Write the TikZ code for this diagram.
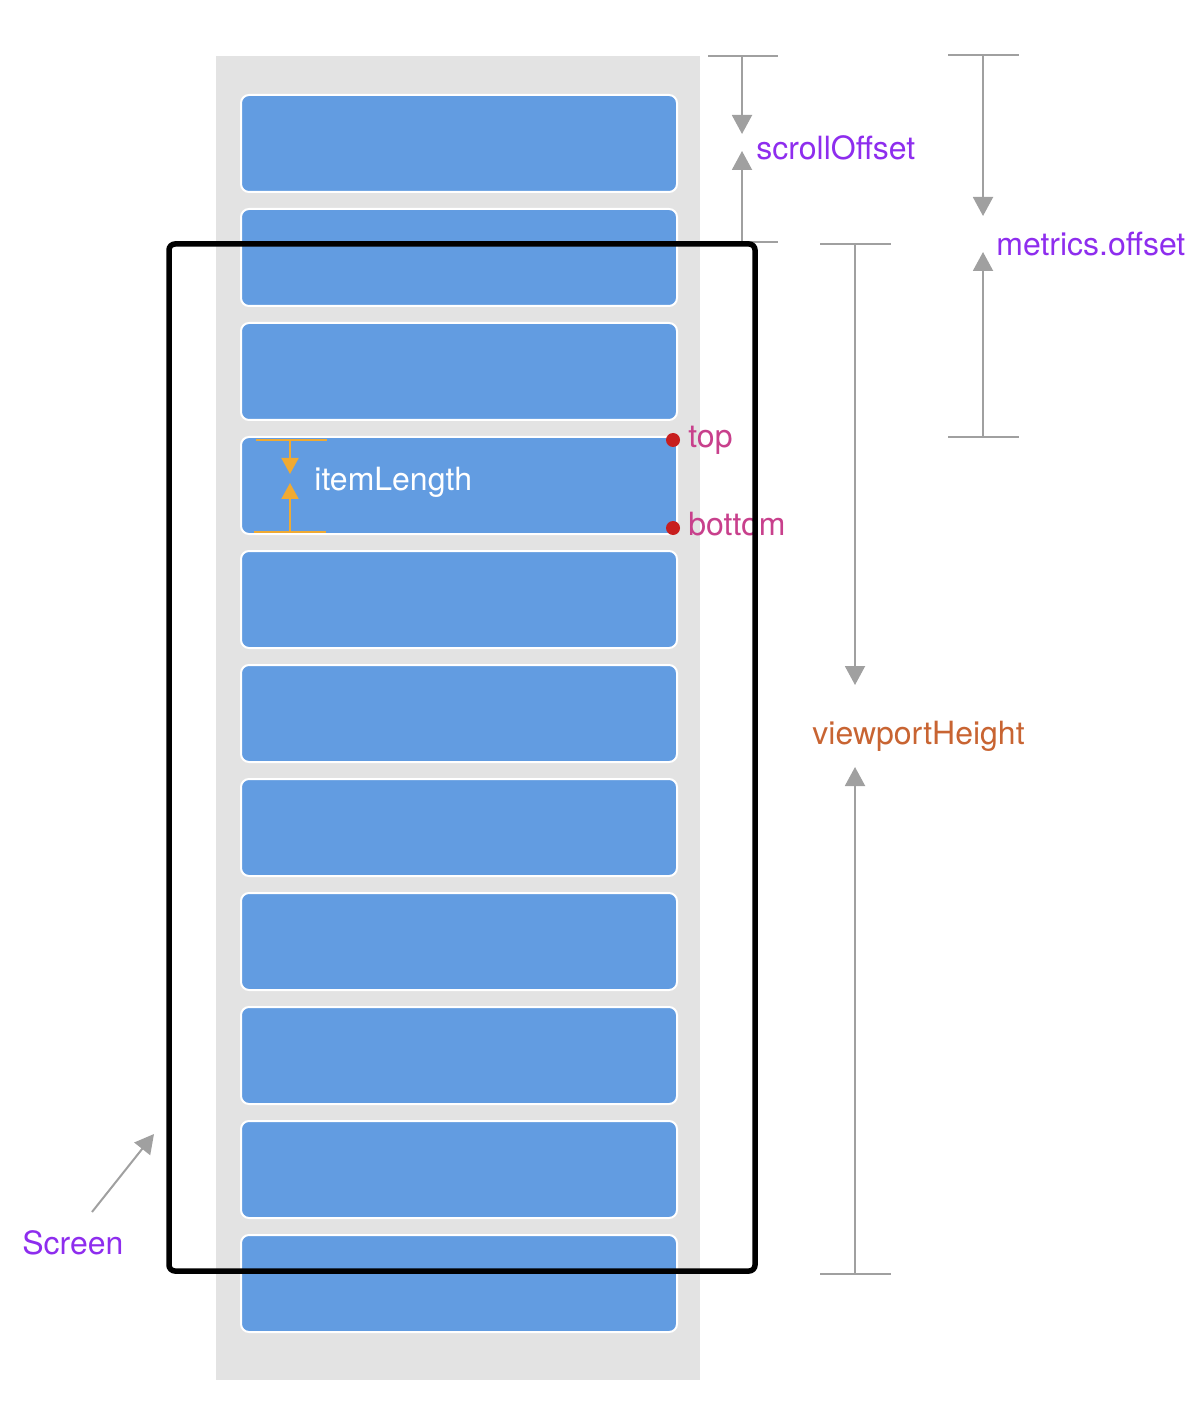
\documentclass[tikz,border=0pt]{standalone}
\usepackage{fontspec}
\setmainfont{TeX Gyre Heros}
\usetikzlibrary{arrows.meta}

\definecolor{listgray}{RGB}{227,227,227}
\definecolor{itemblue}{RGB}{98,156,225}
\definecolor{dimgray}{RGB}{160,160,160}
\definecolor{namepurple}{RGB}{142,45,238}
\definecolor{edgepink}{RGB}{200,64,140}
\definecolor{dotred}{RGB}{200,30,30}
\definecolor{viewbrown}{RGB}{200,100,50}
\definecolor{lenorange}{RGB}{240,170,50}

\tikzset{
	item/.style={rectangle, draw=white, line width=1pt, fill=itemblue, rounded corners=4pt,
		minimum width=218pt, minimum height=48.5pt, inner sep=0pt},
	dimline/.style={draw=dimgray, line width=1pt},
	dimarrow/.style={dimline, -{Triangle[length=9.5pt,width=10pt]}},
	lenline/.style={draw=lenorange, line width=1pt},
	lenarrow/.style={lenline, -{Triangle[length=8pt,width=8.5pt]}},
	label/.style={anchor=base west, inner sep=0pt},
	dot/.style={circle, fill=dotred, inner sep=0pt, minimum size=7pt}
}

\begin{document}
\begin{tikzpicture}[x=0.5pt, y=-0.5pt, font=\fontsize{16}{19}\selectfont]
	\useasboundingbox (0,0) rectangle (1196,1416);
	\fill[listgray] (216,56) rectangle (700,1380);

	\node[item] (item1) at (459,143.5) {};
	\node[item] (item2) at (459,257.5) {};
	\node[item] (item3) at (459,371.5) {};
	\node[item] (item4) at (459,485.5) {};
	\node[item] (item5) at (459,599.5) {};
	\node[item] (item6) at (459,713.5) {};
	\node[item] (item7) at (459,827.5) {};
	\node[item] (item8) at (459,941.5) {};
	\node[item] (item9) at (459,1055.5) {};
	\node[item] (item10) at (459,1169.5) {};
	\node[item] (item11) at (459,1283.5) {};

	% itemLength
	\draw[lenline] (256,440) -- (327,440);
	\draw[lenline] (254,532) -- (326,532);
	\coordinate (lenT) at (290,440);
	\coordinate (lenB) at (290,532);
	\coordinate (lenTtip) at (290,474);
	\coordinate (lenBtip) at (290,483);
	\draw[lenarrow] (lenT) -- (lenTtip);
	\draw[lenarrow] (lenB) -- (lenBtip);
	\node[label, color=white] (itemlen) at (314,490) {itemLength};

	% top / bottom
	\node[dot] (topdot) at (673,440) {};
	\node[dot] (botdot) at (673,528) {};
	\node[label, color=edgepink] (toplab) at (688,448) {top};
	\node[label, color=edgepink] (botlab) at (688,535) {bottom};

	% scrollOffset
	\draw[dimline] (708,56) -- (778,56);
	\draw[dimline] (708,242) -- (778,242);
	\coordinate (soT) at (742,56);
	\coordinate (soB) at (742,242);
	\coordinate (soTtip) at (742,134);
	\coordinate (soBtip) at (742,151);
	\draw[dimarrow] (soT) -- (soTtip);
	\draw[dimarrow] (soB) -- (soBtip);
	\node[label, color=namepurple] (scrolloff) at (756,160) {scrollOffset};

	% metrics.offset
	\draw[dimline] (948,55) -- (1019,55);
	\draw[dimline] (948,437) -- (1019,437);
	\coordinate (moT) at (983,55);
	\coordinate (moB) at (983,437);
	\coordinate (moTtip) at (983,216);
	\coordinate (moBtip) at (983,252);
	\draw[dimarrow] (moT) -- (moTtip);
	\draw[dimarrow] (moB) -- (moBtip);
	\node[label, color=namepurple] (metricsoff) at (996,256) {metrics.offset};

	% viewportHeight
	\draw[dimline] (820,244) -- (891,244);
	\draw[dimline] (820,1274) -- (891,1274);
	\coordinate (vhT) at (855,244);
	\coordinate (vhB) at (855,1274);
	\coordinate (vhTtip) at (855,685);
	\coordinate (vhBtip) at (855,767);
	\draw[dimarrow] (vhT) -- (vhTtip);
	\draw[dimarrow] (vhB) -- (vhBtip);
	\node[label, color=viewbrown] (viewh) at (812,744) {viewportHeight};

	% screen
	\node[label, color=namepurple] (screenlab) at (22,1254) {Screen};
	\coordinate (scrtail) at (92,1212);
	\coordinate (scrtip) at (154,1134);
	\draw[dimarrow] (scrtail) -- (scrtip);
	\node[rectangle, draw=black, line width=2.75pt, rounded corners=3pt, inner sep=0pt,
		minimum width=293pt, minimum height=513.5pt] (screen) at (462,757.5) {};
\end{tikzpicture}
\end{document}
